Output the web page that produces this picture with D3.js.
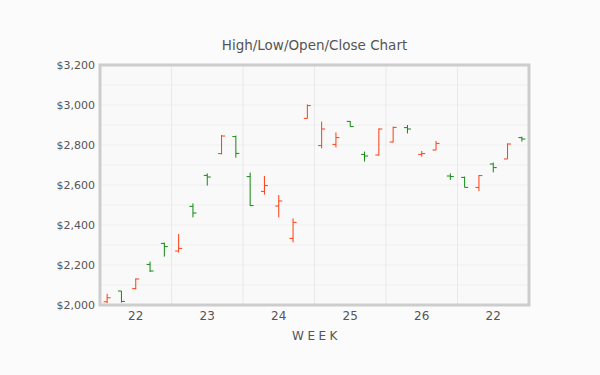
<!DOCTYPE html>
<html lang="en">
<head>
<meta charset="UTF-8">
<title>High/Low/Open/Close Chart</title>
<script src="https://d3js.org/d3.v7.min.js"></script>
<style>
    body { margin: 0; background: #fbfbfb; }
    svg { display: block; font-family: "DejaVu Sans", Verdana, sans-serif; }
    .axis text { fill: #555; }
</style>
</head>
<body>
<svg width="600" height="375"></svg>
<script>
    // values, one entry per trading day
    const opens  = [2016, 2070, 2082, 2203, 2308, 2270, 2493, 2648, 2757, 2842,
                    2642, 2568, 2495, 2333, 2933, 2797, 2803, 2918, 2753, 2750,
                    2815, 2887, 2753, 2775, 2645, 2638, 2588, 2705, 2730, 2837];
    const highs  = [2056, 2070, 2133, 2217, 2312, 2355, 2508, 2658, 2850, 2847,
                    2662, 2645, 2550, 2433, 3003, 2917, 2863, 2920, 2767, 2883,
                    2892, 2900, 2770, 2820, 2658, 2642, 2650, 2712, 2808, 2842];
    const lows   = [2010, 2012, 2078, 2165, 2242, 2262, 2438, 2597, 2753, 2737,
                    2495, 2552, 2438, 2313, 2933, 2783, 2788, 2892, 2717, 2747,
                    2813, 2858, 2742, 2775, 2625, 2588, 2570, 2663, 2730, 2817];
    const closes = [2036, 2018, 2130, 2170, 2292, 2283, 2460, 2640, 2845, 2758,
                    2497, 2597, 2520, 2413, 2997, 2880, 2837, 2892, 2745, 2880,
                    2888, 2880, 2757, 2808, 2642, 2588, 2647, 2687, 2805, 2830];
    const weekLabels = ["22", "23", "24", "25", "26", "22"];
    const labelIndex = [2, 7, 12, 17, 22, 27];
    const yTicks = [2000, 2200, 2400, 2600, 2800, 3000, 3200];

    const svg = d3.select("svg");
    const plotL = 100, plotR = 529, plotT = 65, plotB = 305;
    const upColor = "#ff3c14", downColor = "#128a12";

    const data = opens.map((o, i) => ({i: i, open: o, high: highs[i], low: lows[i], close: closes[i]}));

    const x = d3.scaleBand().domain(d3.range(data.length)).range([plotL, plotR]);
    const y = d3.scaleLinear().domain([2000, 3200]).range([plotB, plotT]);

    // plot background
    svg.append("rect")
        .attr("x", plotL).attr("y", plotT)
        .attr("width", plotR - plotL).attr("height", plotB - plotT)
        .attr("fill", "#f9f9f9");

    // horizontal grid every $100
    svg.append("g").selectAll("line")
        .data(d3.range(2100, 3200, 100))
        .join("line")
        .attr("x1", plotL).attr("x2", plotR)
        .attr("y1", d => y(d)).attr("y2", d => y(d))
        .attr("stroke", "#efefef");

    // vertical grid between weeks
    svg.append("g").selectAll("line")
        .data([5, 10, 15, 20, 25])
        .join("line")
        .attr("x1", d => x(d)).attr("x2", d => x(d))
        .attr("y1", plotT).attr("y2", plotB)
        .attr("stroke", "#e9e9e9");

    // OHLC bars
    const bars = svg.append("g").selectAll("g")
        .data(data)
        .join("g")
        .attr("stroke", d => d.close > d.open ? upColor : downColor)
        .attr("stroke-width", 1);
    const cx = d => x(d.i) + x.bandwidth() / 2;
    bars.append("line")
        .attr("x1", cx).attr("x2", cx)
        .attr("y1", d => y(d.high)).attr("y2", d => y(d.low));
    bars.append("line")
        .attr("x1", d => cx(d) - 3.5).attr("x2", cx)
        .attr("y1", d => y(d.open)).attr("y2", d => y(d.open));
    bars.append("line")
        .attr("x1", cx).attr("x2", d => cx(d) + 3.5)
        .attr("y1", d => y(d.close)).attr("y2", d => y(d.close));

    // frame
    svg.append("rect")
        .attr("x", plotL).attr("y", plotT)
        .attr("width", plotR - plotL).attr("height", plotB - plotT)
        .attr("fill", "none")
        .attr("stroke", "#cdcdcd")
        .attr("stroke-width", 3);

    // axes
    const yAxis = svg.append("g")
        .attr("class", "axis")
        .attr("transform", `translate(${plotL - 5},0)`)
        .call(d3.axisLeft(y).tickValues(yTicks).tickFormat(d3.format("$,")).tickSize(0).tickPadding(0));
    yAxis.select(".domain").remove();
    yAxis.selectAll("text").attr("font-size", 11).attr("font-family", "DejaVu Sans");

    const xAxis = svg.append("g")
        .attr("class", "axis")
        .attr("transform", `translate(0,${plotB + 3})`)
        .call(d3.axisBottom(x).tickValues(labelIndex)
            .tickFormat((d, k) => weekLabels[k]).tickSize(0).tickPadding(3));
    xAxis.select(".domain").remove();
    xAxis.selectAll("text").attr("font-size", 12).attr("font-family", "DejaVu Sans");

    // titles
    svg.append("text")
        .attr("x", (plotL + plotR) / 2).attr("y", 50)
        .attr("text-anchor", "middle")
        .attr("font-size", 13.5)
        .attr("fill", "#555")
        .text("High/Low/Open/Close Chart");

    svg.append("text")
        .attr("x", (plotL + plotR) / 2 + 2).attr("y", 340)
        .attr("text-anchor", "middle")
        .attr("font-size", 12)
        .attr("letter-spacing", 3.5)
        .attr("fill", "#555")
        .text("WEEK");
</script>
</body>
</html>
